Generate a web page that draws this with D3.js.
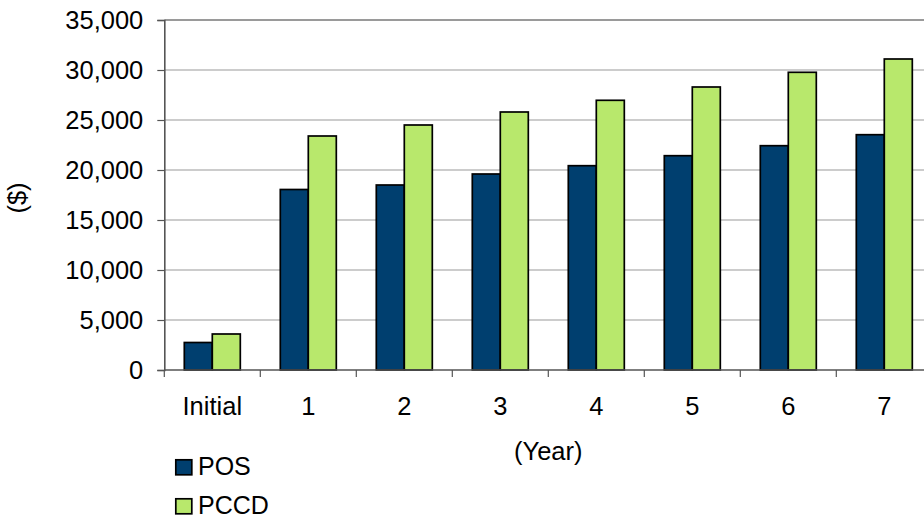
<!DOCTYPE html>
<html><head><meta charset="utf-8">
<script src="https://cdn.jsdelivr.net/npm/d3@7"></script>
<style>
html,body{margin:0;padding:0;background:#fff;overflow:hidden;}
text{font-family:"Liberation Sans",Arial,sans-serif;fill:#000;}
</style></head>
<body>
<svg id="c" width="924" height="520"></svg>
<script>
const categories = ["Initial","1","2","3","4","5","6","7"];
const seriesNames = ["POS","PCCD"];
const posValues = [2750, 18050, 18500, 19600, 20430, 21430, 22430, 23530];
const pccdValues = [3600, 23400, 24500, 25800, 26970, 28300, 29770, 31100];
const seriesColors = ["#003f6f", "#b8e86c"];
const yTicks = [0,5000,10000,15000,20000,25000,30000,35000];
const xTitle = "(Year)";
const yTitle = "($)";

const svg = d3.select("#c");
const mLeft = 164.3, mRight = 932.3, mTop = 20, mBottom = 370;

const x0 = d3.scaleBand().domain(categories).range([mLeft, mRight]).padding(0);
const x1 = d3.scaleBand().domain(seriesNames).range([0, x0.bandwidth()]).paddingInner(0).paddingOuter(0.714);
const y = d3.scaleLinear().domain([0, 35000]).range([mBottom, mTop]);

const data = categories.map((c,i)=>({cat:c, vals:[posValues[i], pccdValues[i]]}));

// gridlines
svg.append("g").selectAll("line").data(yTicks.filter(t=>t>0)).join("line")
  .attr("x1", mLeft).attr("x2", 924)
  .attr("y1", d=>y(d)).attr("y2", d=>y(d))
  .attr("stroke", "#9a9a9a")
  .attr("stroke-width", d=> d===35000 ? 2 : 1.2);

// y axis
const yAxis = d3.axisLeft(y).tickValues(yTicks).tickFormat(d3.format(",")).tickSize(7).tickPadding(14);
const ga = svg.append("g").attr("transform", `translate(${mLeft},0)`).call(yAxis);
ga.select(".domain").attr("stroke", "#555").attr("stroke-width", 1.6);
ga.selectAll(".tick line").attr("stroke", "#555").attr("stroke-width", 1.2);
ga.selectAll(".tick text").attr("font-size", 25.5).attr("font-family", '"Liberation Sans",Arial,sans-serif').attr("fill","#000").attr("dy","0.34em");

// bars
const groups = svg.append("g").selectAll("g").data(data).join("g")
  .attr("transform", d=>`translate(${x0(d.cat)},0)`);
groups.selectAll("rect").data(d=>d.vals.map((v,j)=>({s:seriesNames[j], v, j}))).join("rect")
  .attr("x", d=>x1(d.s)).attr("width", x1.bandwidth())
  .attr("y", d=>y(d.v)).attr("height", d=>y(0)-y(d.v))
  .attr("fill", d=>seriesColors[d.j])
  .attr("stroke", "#000").attr("stroke-width", 1.7);

// x axis
const xg = svg.append("g");
xg.append("line").attr("x1", mLeft).attr("x2", 924).attr("y1", mBottom).attr("y2", mBottom)
  .attr("stroke", "#555").attr("stroke-width", 1.6);
const boundaries = categories.map(c=>x0(c)).concat([x0(categories[categories.length-1]) + x0.bandwidth()]);
xg.selectAll("line.tk").data(boundaries).join("line").attr("class","tk")
  .attr("x1", d=>d).attr("x2", d=>d).attr("y1", mBottom).attr("y2", mBottom+7)
  .attr("stroke", "#555").attr("stroke-width", 1.2);
xg.selectAll("text").data(categories).join("text")
  .attr("x", d=>x0(d)+x0.bandwidth()/2).attr("y", 415)
  .attr("text-anchor","middle").attr("font-size", 25.5).text(d=>d);

// axis titles
svg.append("text").attr("x", (mLeft+mRight)/2).attr("y", 460).attr("text-anchor","middle")
  .attr("font-size", 25.5).text(xTitle);
svg.append("text").attr("transform", `translate(26,${(mTop+mBottom)/2+3}) rotate(-90)`)
  .attr("text-anchor","middle").attr("font-size", 25.5).text(yTitle);

// legend
const lg = svg.append("g").selectAll("g").data(seriesNames).join("g")
  .attr("transform", (d,i)=>`translate(175,${459 + i*39})`);
lg.append("rect").attr("x",0.8).attr("y",0.8).attr("width",16).attr("height",15)
  .attr("fill",(d,i)=>seriesColors[i]).attr("stroke","#000").attr("stroke-width",1.7);
lg.append("text").attr("x",23).attr("y",16).attr("font-size",25).text(d=>d);
</script>
</body></html>
